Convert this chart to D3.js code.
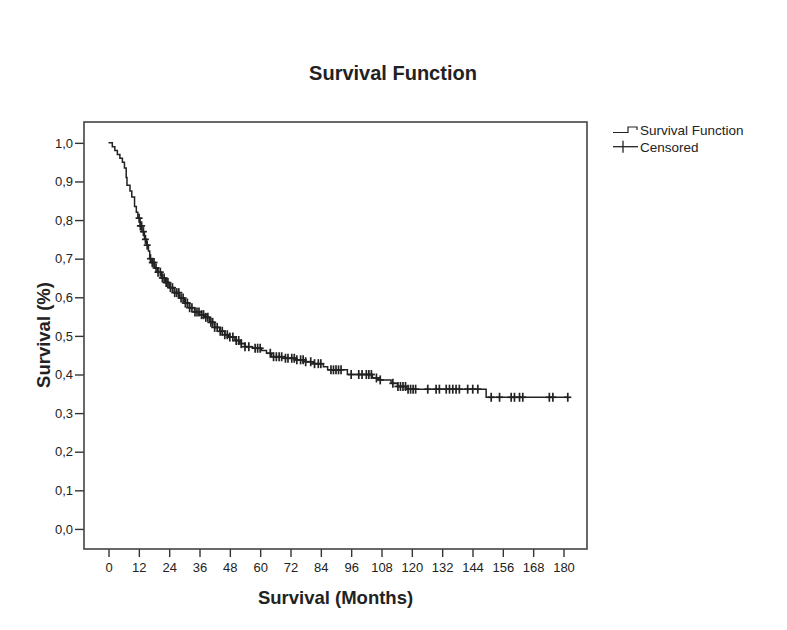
<!DOCTYPE html>
<html><head><meta charset="utf-8">
<script src="https://cdn.jsdelivr.net/npm/d3@7"></script>
<style>
body{margin:0;background:#fff;}
text{font-family:"Liberation Sans",Arial,sans-serif;fill:#222;}
</style></head>
<body><svg id="c" width="787" height="630"></svg>
<script>
// Kaplan-Meier step data: event times (months) and survival after each step
const stepTimes = [0,1.5,2.5,3.5,4.5,5.5,6.3,7.0,7.3,8.5,9.2,10.3,11.0,11.6,12.5,13.2,14.2,15.0,15.8,16.3,17.2,18.2,19.5,21,22.5,24,26,28,30,32,34,36,38,40,42,44,46,47.5,50,52,54,57,60.5,62.5,64.5,70,74,78,81,85,86.7,94.5,104.4,107,111.8,114.3,117.7,149.4];
const stepSurv  = [1.0,0.99,0.98,0.97,0.96,0.95,0.935,0.91,0.89,0.875,0.86,0.835,0.82,0.805,0.785,0.77,0.75,0.735,0.72,0.70,0.69,0.676,0.665,0.65,0.638,0.625,0.612,0.598,0.585,0.573,0.562,0.555,0.548,0.535,0.522,0.512,0.503,0.497,0.488,0.48,0.472,0.468,0.462,0.455,0.446,0.442,0.438,0.433,0.428,0.42,0.412,0.40,0.391,0.386,0.377,0.369,0.362,0.341];
const lastTime = 181.7;
const censoredTimes = [12.1,12.6,13.1,13.8,14.6,15.3,16.6,17.3,18.0,18.8,19.6,20.5,21.3,22.0,22.8,23.5,24.5,25.3,26.2,27.0,27.8,28.7,29.5,30.4,31.2,32.1,33.0,34.2,35.0,35.8,36.8,37.6,38.5,39.3,40.5,41.2,42.0,43.0,44.2,45.0,46.0,47.0,48.0,49.2,50.5,51.5,52.5,54.0,55.5,58.0,59.0,60.0,64.0,65.3,66.4,67.5,68.5,70.0,71.0,72.5,73.5,74.5,76.0,77.0,78.0,80.0,81.5,83.0,84.0,88.0,89.0,90.0,91.0,92.0,96.0,99.0,100.3,102.0,103.0,104.0,106.0,107.5,112.5,114.5,115.5,116.5,117.5,118.5,119.5,120.5,121.5,126.3,129.6,130.9,133.6,134.9,136.2,137.5,138.8,142.1,144.1,146.1,151.4,154.7,159.3,160.6,162.6,163.9,174.4,175.8,181.7];
const xTicks = [0,12,24,36,48,60,72,84,96,108,120,132,144,156,168,180];
const yTicks = [0,0.1,0.2,0.3,0.4,0.5,0.6,0.7,0.8,0.9,1.0];
const titleText = "Survival Function";
const xLabel = "Survival (Months)";
const yLabel = "Survival (%)";
const legendItems = ["Survival Function","Censored"];

const svg = d3.select("#c");
const L=84,R=587,T=122,B=549;
const x = d3.scaleLinear().domain([-9.7,189.3]).range([L,R]);
const y = d3.scaleLinear().domain([-0.052,1.054]).range([B,T]);

// title
svg.append("text").attr("x",393).attr("y",80).attr("text-anchor","middle")
  .style("font-size","20px").style("font-weight","bold").text(titleText);

// axes
const fmt = d=>d3.format(".1f")(d).replace(".",",");
const ya = svg.append("g").attr("transform",`translate(${L},0)`)
  .call(d3.axisLeft(y).tickValues(yTicks).tickFormat(fmt).tickSize(9).tickPadding(2));
const xa = svg.append("g").attr("transform",`translate(0,${B})`)
  .call(d3.axisBottom(x).tickValues(xTicks).tickSize(8).tickPadding(6));
[ya,xa].forEach(g=>{
  g.select(".domain").remove();
  g.selectAll("line").attr("stroke","#333").attr("stroke-width",1.4);
  g.selectAll("text").style("font-size","13px").attr("fill","#222");
});

// frame
svg.append("rect").attr("x",L).attr("y",T).attr("width",R-L).attr("height",B-T)
  .attr("fill","none").attr("stroke","#444").attr("stroke-width",1.6);

// axis labels
svg.append("text").attr("x",(L+R)/2).attr("y",604).attr("text-anchor","middle")
  .style("font-size","18.5px").style("font-weight","bold").text(xLabel);
svg.append("text").attr("transform",`translate(50,335) rotate(-90)`).attr("text-anchor","middle")
  .style("font-size","18.5px").style("font-weight","bold").text(yLabel);

// survival step line
const pts = stepTimes.map((t,i)=>[t,stepSurv[i]]);
pts.push([lastTime, stepSurv[stepSurv.length-1]]);
const line = d3.line().x(d=>x(d[0])).y(d=>y(d[1])).curve(d3.curveStepAfter);
svg.append("path").datum(pts).attr("d",line).attr("fill","none")
  .attr("stroke","#222").attr("stroke-width",1.5);

// censored marks
const survAt = t=>{ const i = d3.bisectRight(stepTimes,t)-1; return stepSurv[Math.max(0,i)]; };
const cg = svg.append("g").attr("stroke","#222").attr("stroke-width",1.7);
censoredTimes.forEach(t=>{
  const cx=x(t), cy=y(survAt(t));
  cg.append("line").attr("x1",cx).attr("x2",cx).attr("y1",cy-4.5).attr("y2",cy+4.5);
  cg.append("line").attr("x1",cx-3.5).attr("x2",cx+3.5).attr("y1",cy).attr("y2",cy);
});

// legend
const lg = svg.append("g");
lg.append("path").attr("d","M613,132.5 H628 V127 H637 V130").attr("fill","none").attr("stroke","#222").attr("stroke-width",1.2);
lg.append("text").attr("x",640).attr("y",135).style("font-size","13.5px").text(legendItems[0]);
lg.append("line").attr("x1",613).attr("x2",638).attr("y1",146.7).attr("y2",146.7).attr("stroke","#222").attr("stroke-width",1.3);
lg.append("line").attr("x1",623).attr("x2",623).attr("y1",140.7).attr("y2",152.7).attr("stroke","#222").attr("stroke-width",1.3);
lg.append("text").attr("x",640).attr("y",152).style("font-size","13.5px").text(legendItems[1]);
</script></body></html>
